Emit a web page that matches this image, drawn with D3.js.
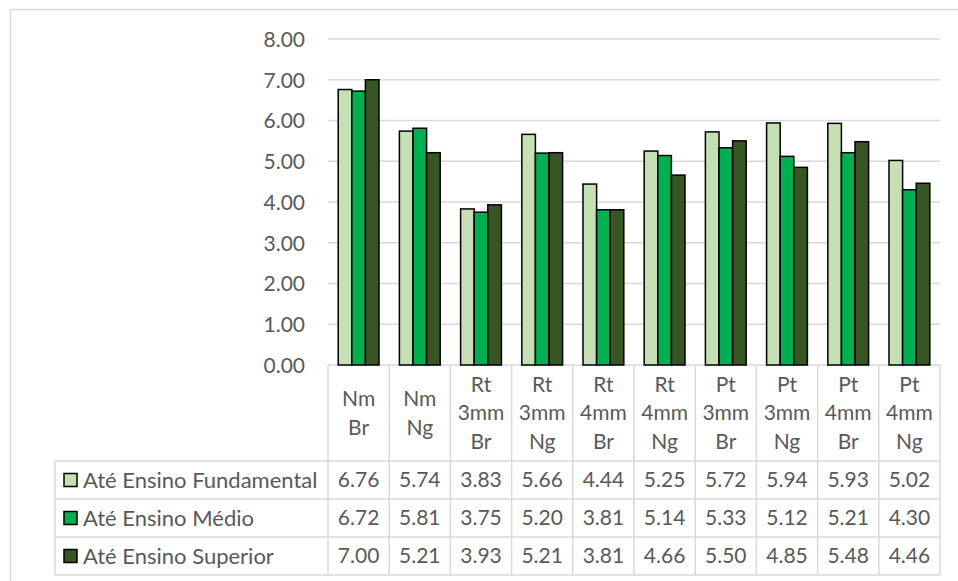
<!DOCTYPE html>
<html>
<head>
<meta charset="utf-8">
<script src="https://cdn.jsdelivr.net/npm/d3@7"></script>
<style>
  html, body { margin: 0; padding: 0; background: #fff; }
  svg { display: block; }
  text { font-family: Lato, "Open Sans", sans-serif; fill: #595959; }
</style>
</head>
<body>
<svg id="chart" width="958" height="581"></svg>
<script>
// Category labels (multi-line, split on "|")
const categories = ["Nm|Br", "Nm|Ng", "Rt|3mm|Br", "Rt|3mm|Ng", "Rt|4mm|Br",
                    "Rt|4mm|Ng", "Pt|3mm|Br", "Pt|3mm|Ng", "Pt|4mm|Br", "Pt|4mm|Ng"];

const seriesNames = ["Até Ensino Fundamental", "Até Ensino Médio", "Até Ensino Superior"];
const seriesColors = ["#C5E0B4", "#00B050", "#375623"];

const fundamental = [6.76, 5.74, 3.83, 5.66, 4.44, 5.25, 5.72, 5.94, 5.93, 5.02];
const medio       = [6.72, 5.81, 3.75, 5.20, 3.81, 5.14, 5.33, 5.12, 5.21, 4.30];
const superior    = [7.00, 5.21, 3.93, 5.21, 3.81, 4.66, 5.50, 4.85, 5.48, 4.46];

const yTicks = [0, 1, 2, 3, 4, 5, 6, 7, 8];

const seriesValues = [fundamental, medio, superior];

const svg = d3.select("#chart");
const W = 958, H = 581;

// Layout
const plot = { left: 328, right: 940, top: 39, bottom: 365 };
const headerBottom = 461;
const rowH = 38;
const tableLeft = 55;
const gridColor = "#d9d9d9";
const fontSize = 21;
const nameFontSize = 22;

// Outer chart frame
svg.append("rect")
  .attr("x", 10.5).attr("y", 9.5)
  .attr("width", W + 20).attr("height", H + 20)
  .attr("fill", "none").attr("stroke", gridColor).attr("stroke-width", 1.5);

// Scales
const x = d3.scaleBand()
  .domain(d3.range(categories.length))
  .range([plot.left, plot.right])
  .paddingInner(1 / 3)
  .paddingOuter(1 / 6);

const xs = d3.scaleBand()
  .domain(d3.range(seriesNames.length))
  .range([0, x.bandwidth()])
  .padding(0);

const y = d3.scaleLinear().domain([0, 8]).range([plot.bottom, plot.top]);

// Gridlines
svg.append("g")
  .selectAll("line")
  .data(yTicks)
  .join("line")
  .attr("x1", plot.left).attr("x2", plot.right)
  .attr("y1", d => y(d)).attr("y2", d => y(d))
  .attr("stroke", gridColor).attr("stroke-width", 1.5);

// Y axis labels
const yAxis = d3.axisLeft(y).tickValues(yTicks).tickFormat(d3.format(".2f")).tickSize(0).tickPadding(0);
const gy = svg.append("g").attr("transform", `translate(305,0)`).call(yAxis);
gy.select(".domain").remove();
gy.selectAll("text")
  .attr("font-size", fontSize)
  .attr("fill", "#595959")
  .attr("font-family", "Lato, 'Open Sans', sans-serif")
  .attr("dy", "0.35em");

// Bars
const groups = svg.append("g")
  .selectAll("g")
  .data(seriesValues)
  .join("g")
  .attr("fill", (d, i) => seriesColors[i]);

groups.each(function (vals, si) {
  d3.select(this).selectAll("rect")
    .data(vals)
    .join("rect")
    .attr("x", (v, ci) => x(ci) + xs(si))
    .attr("y", v => y(v))
    .attr("width", xs.bandwidth())
    .attr("height", v => y(0) - y(v))
    .attr("stroke", "#000")
    .attr("stroke-width", 1.5);
});

// Data table
const table = svg.append("g").attr("stroke", gridColor).attr("stroke-width", 1.5);
const tableBottom = headerBottom + rowH * seriesNames.length;

// vertical lines at category boundaries
const colEdges = categories.map((c, i) => x(i) - x.step() * x.paddingInner() / 2);
colEdges.push(plot.right);
table.selectAll("line.v")
  .data(colEdges)
  .join("line")
  .attr("class", "v")
  .attr("x1", d => d).attr("x2", d => d)
  .attr("y1", plot.bottom).attr("y2", tableBottom);

// left border of legend column
table.append("line")
  .attr("x1", tableLeft).attr("x2", tableLeft)
  .attr("y1", headerBottom).attr("y2", tableBottom);

// horizontal row lines
table.selectAll("line.h")
  .data(d3.range(seriesNames.length + 1))
  .join("line")
  .attr("class", "h")
  .attr("x1", tableLeft).attr("x2", plot.right)
  .attr("y1", i => headerBottom + i * rowH).attr("y2", i => headerBottom + i * rowH);

// Category header labels
const lineH = 28.5;
const headerMid = (plot.bottom + headerBottom) / 2;
svg.append("g")
  .selectAll("text")
  .data(categories)
  .join("text")
  .attr("font-size", fontSize)
  .attr("text-anchor", "middle")
  .each(function (c, i) {
    const lines = c.split("|");
    const cx = x(i) + x.bandwidth() / 2;
    const y0 = headerMid - (lines.length - 1) * lineH / 2;
    d3.select(this).selectAll("tspan")
      .data(lines)
      .join("tspan")
      .attr("x", cx)
      .attr("y", (l, k) => y0 + k * lineH)
      .attr("dy", "0.35em")
      .text(l => l);
  });

// Legend keys and series names
const rows = svg.append("g")
  .selectAll("g")
  .data(seriesNames)
  .join("g")
  .attr("transform", (d, i) => `translate(0,${headerBottom + i * rowH + rowH / 2})`);

rows.append("rect")
  .attr("x", 64).attr("y", -6.5)
  .attr("width", 13).attr("height", 13)
  .attr("fill", (d, i) => seriesColors[i])
  .attr("stroke", "#000").attr("stroke-width", 1.5);

rows.append("text")
  .attr("x", 83)
  .attr("dy", "0.35em")
  .attr("font-size", nameFontSize)
  .text(d => d);

// Values
rows.each(function (name, si) {
  d3.select(this).selectAll("text.val")
    .data(seriesValues[si])
    .join("text")
    .attr("class", "val")
    .attr("x", (v, ci) => x(ci) + x.bandwidth() / 2)
    .attr("dy", "0.35em")
    .attr("text-anchor", "middle")
    .attr("font-size", fontSize)
    .text(v => d3.format(".2f")(v));
});
</script>
</body>
</html>
